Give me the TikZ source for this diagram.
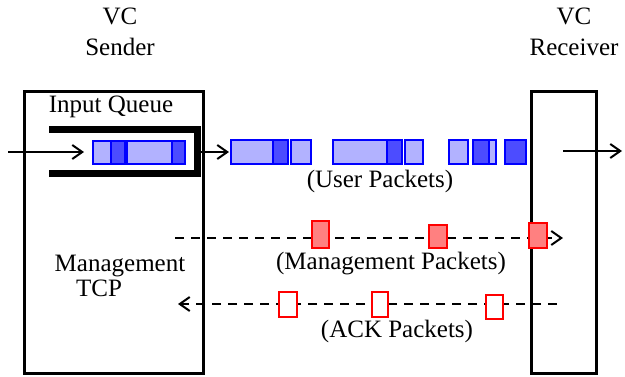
\documentclass[tikz,border=0pt]{standalone}
\usepackage{fontspec}
\setmainfont{Liberation Serif}
\usetikzlibrary{arrows.meta}
\tikzstyle{box}=[draw,line width=1.5pt,inner sep=0pt]
\tikzstyle{lbl}=[inner sep=0pt,font=\fontsize{12.5}{14}\selectfont]
\tikzstyle{to}=[-{Straight Barb[length=5pt,width=7pt]},line width=1pt]
\tikzstyle{dsh}=[to,dash pattern=on 4.5pt off 3.5pt]
\tikzstyle{qbar}=[line width=3.5pt]
\tikzstyle{upk}=[draw=blue,fill=blue!30,line width=1pt]
\tikzstyle{updk}=[draw=blue,fill=blue!70,line width=1pt]
\tikzstyle{mpk}=[draw=red,fill=red!50,line width=1pt]
\tikzstyle{apk}=[draw=red,fill=white,line width=1pt]

\begin{document}
\begin{tikzpicture}[x=0.5pt,y=-0.5pt]
    \useasboundingbox (0,0) rectangle (625,376);
        % the two ends of the VC
        \node[box,minimum width=89.5pt,minimum height=140.75pt] (sender) at (113.5,232.25) {}
        ;
        \node[box,minimum width=32.5pt,minimum height=140.75pt] (receiver) at (563.5,232.25) {}
        ;
        \node[lbl] (vcs) at (120,16) {VC};
        \node[lbl] (sname) at (120,47) {Sender};
        \node[lbl] (vcr) at (574,16) {VC};
        \node[lbl] (rname) at (574,47) {Receiver};
        \node[lbl] (qname) at (111,107) {Input Queue};
        \node[lbl] (mtcp) at (120,266) {Management};
        \node[lbl] (tcp) at (99,288) {TCP};

        % input queue
        \draw[qbar] (49,129.5) -- (197.5,129.5) -- (197.5,173) -- (49,173);
        \filldraw[upk] (93,141) rectangle (125,164);
        \filldraw[updk] (111,141) rectangle (125,164);
        \filldraw[upk] (127,141) rectangle (185,164);
        \filldraw[updk] (172,141) rectangle (185,164);

        % user packets
        \coordinate (inl) at (8,152);
        \coordinate (inr) at (84,152);
        \coordinate (qout) at (199,152);
        \coordinate (uin) at (229,152);
        \coordinate (rin) at (563,151);
        \coordinate (rout) at (622,151);
        \draw[to] (inl) -- (inr);
        \draw[to] (qout) -- (uin);
        \draw[to] (rin) -- (rout);
        \filldraw[upk] (231,140) rectangle (288,164);
        \filldraw[updk] (273,140) rectangle (288,164);
        \filldraw[upk] (291,140) rectangle (311,164);
        \filldraw[upk] (333,140) rectangle (402,164);
        \filldraw[updk] (387,140) rectangle (402,164);
        \filldraw[upk] (405,140) rectangle (423,164);
        \filldraw[upk] (449,140) rectangle (468,164);
        \filldraw[upk] (473,140) rectangle (496,164);
        \filldraw[updk] (473,140) rectangle (489,164);
        \filldraw[updk] (505,140) rectangle (526,164);
        \node[lbl] (uname) at (380,181) {(User Packets)};

        % management packets
        \coordinate (ms) at (175,238);
        \coordinate (me) at (563,238);
        \draw[dsh] (ms) -- (me);
        \filldraw[mpk] (312,221) rectangle (329,248);
        \filldraw[mpk] (429,225) rectangle (447,248);
        \filldraw[mpk] (529,223) rectangle (547,248);
        \node[lbl] (mname) at (391,264) {(Management Packets)};

        % ACK packets
        \coordinate (as) at (557,304);
        \coordinate (ae) at (178,304);
        \draw[dsh] (as) -- (ae);
        \filldraw[apk] (279,292) rectangle (297,317);
        \filldraw[apk] (372,292) rectangle (388,317);
        \filldraw[apk] (486,295) rectangle (503,319);
        \node[lbl] (aname) at (397,331) {(ACK Packets)};
    \end{tikzpicture}
\end{document}
